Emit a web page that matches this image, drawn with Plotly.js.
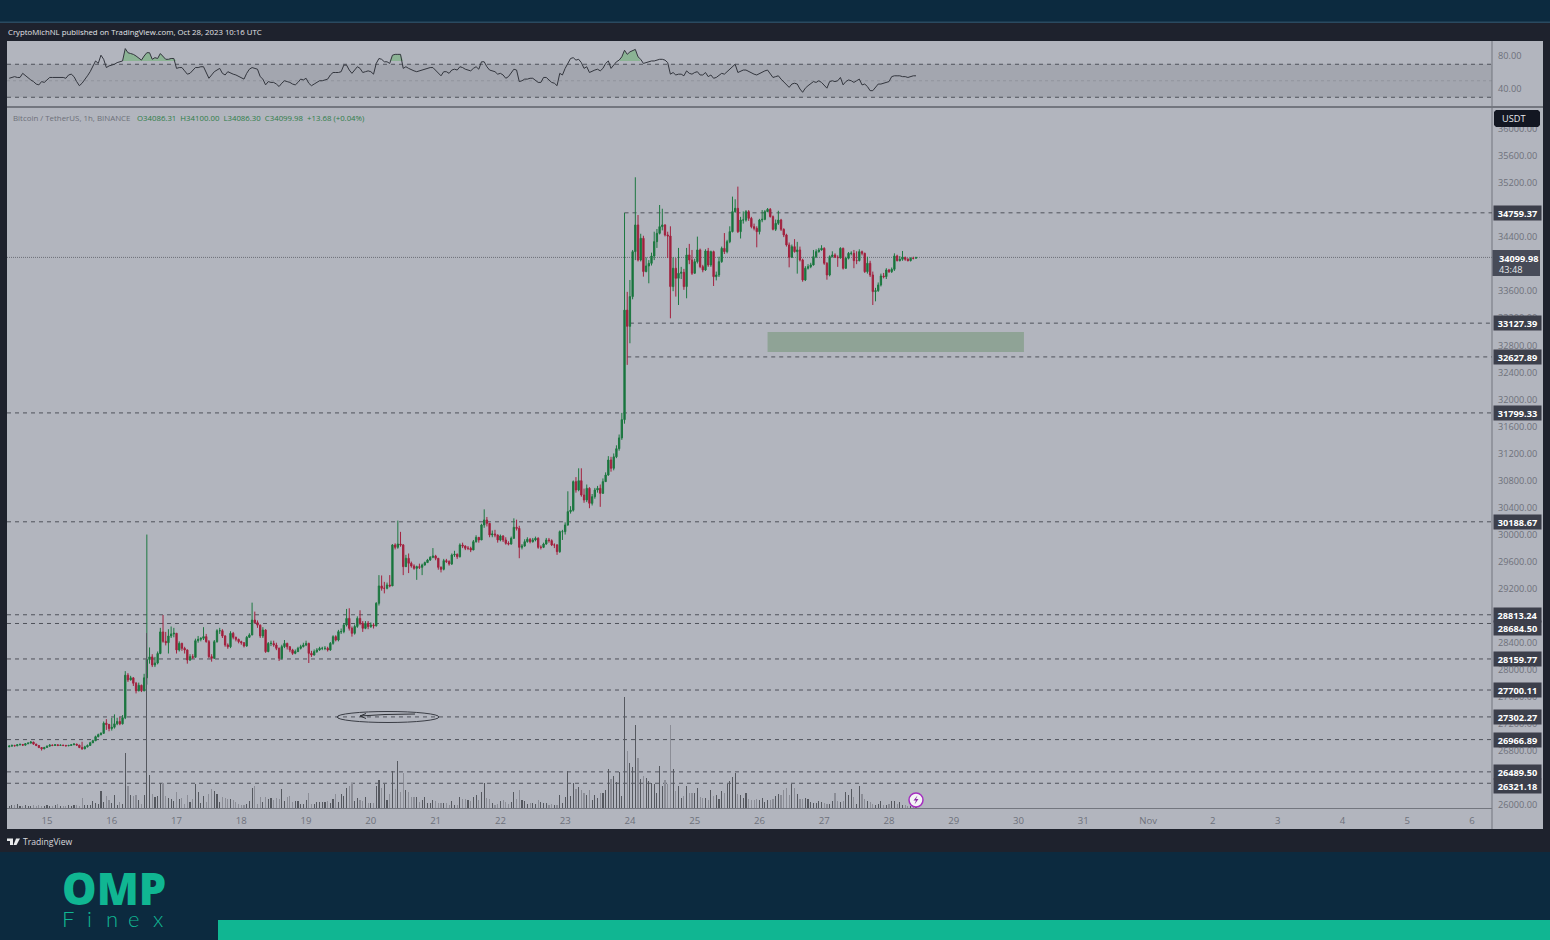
<!DOCTYPE html>
<html><head><meta charset="utf-8">
<script src="https://cdn.plot.ly/plotly-3.0.1.min.js"></script>
<style>html,body{margin:0;padding:0;background:#0c2a3f;overflow:hidden}#c{width:1550px;height:940px}</style>
</head><body><div id="c"></div>
<script>
const firstOpen = 26860;
const closes = [
26870,26880,26875,26890,26895,26885,26905,26915,26930,26900,26880,26850,26830,26850,
26870,26885,26880,26890,26880,26885,26880,26875,26880,26890,26900,26885,26850,26830,26860,26880,26920,26950,27010,27040,27060,27210,27190,27130,
27150,27200,27235,27200,27290,27920,27850,27880,27800,27690,27770,27690,27880,28150,28190,28070,28100,28240,28560,28420,28400,28500,28530,28540,
28293,28390,28317,28293,28145,28194,28185,28430,28450,28465,28490,28416,28194,28170,28416,28578,28578,28500,28366,28340,28539,28480,28450,28416,
28400,28352,28480,28515,28736,28697,28660,28500,28588,28268,28390,28390,28366,28317,28170,28342,28390,28340,28293,28243,28270,28317,28342,28366,
28390,28243,28218,28268,28293,28317,28317,28317,28293,28391,28490,28440,28564,28564,28662,28760,28613,28539,28640,28760,28687,28613,28687,28638,
28662,28650,28983,29240,29205,29205,29254,29240,29846,29811,29860,29846,29525,29649,29575,29535,29500,29525,29515,29550,29585,29624,29663,29683,
29649,29515,29486,29614,29600,29565,29698,29708,29673,29846,29830,29797,29797,29772,29895,29959,29920,30142,30216,30166,29994,30009,29994,29920,
29979,29920,29870,29860,29944,30107,30092,29811,29831,29895,29930,29895,29920,29944,29811,29811,29860,29920,29910,29846,29846,29747,30043,30043,
30142,30339,30360,30783,30660,30797,30585,30511,30684,30462,30560,30659,30684,30610,30783,30881,31103,30980,31150,31270,31430,31700,33320,33080,
33520,34185,34580,34062,34382,33890,33973,34012,34121,34333,34456,34555,34580,34432,34417,33668,33939,33791,33865,33880,33668,34136,34062,33865,
34037,34210,33963,33914,34195,33988,34185,33815,33840,34037,34234,34185,34333,34481,34777,34826,34481,34653,34653,34777,34678,34555,34530,34481,
34653,34663,34777,34811,34703,34515,34604,34653,34515,34432,34284,34101,34259,34185,34210,34062,33766,33939,33963,33988,34111,34185,34210,34234,
34013,33840,34111,34136,34101,34096,34234,33939,34087,34160,34160,34052,34052,34185,34160,33889,34013,33840,33594,33608,33692,33825,33815,33914,
33889,33924,34121,34052,34072,34101,34072,34052,34087,34086,34099.98];
const highs = [
26885,26895,26890,26900,26910,26900,26915,26925,26945,26935,26905,26885,26855,26860,
26880,26900,26895,26900,26895,26895,26890,26890,26890,26900,26915,26905,26890,26935,26875,26895,26935,26965,27025,27055,27075,27235,27270,27200,
27290,27340,27290,27300,27330,27980,27950,27910,27890,27820,27810,27780,27940,30000,28330,28230,28190,28270,28620,28810,28560,28600,28640,28620,
28540,28420,28400,28340,28300,28230,28230,28460,28500,28480,28630,28530,28440,28230,28440,28600,28620,28600,28510,28390,28570,28560,28490,28460,
28430,28410,28500,28540,28993,28860,28730,28670,28630,28600,28410,28430,28430,28400,28330,28370,28440,28400,28350,28310,28300,28340,28370,28400,
28430,28400,28280,28300,28320,28340,28340,28350,28340,28410,28510,28510,28590,28610,28690,28900,28910,28640,28670,28790,28880,28720,28720,28720,
28700,28690,29000,29400,29395,29300,29290,29400,29860,29870,30206,30040,29860,29700,29720,29600,29560,29540,29570,29570,29600,29640,29680,29800,
29700,29650,29530,29640,29640,29620,29720,29760,29720,29870,29880,29840,29830,29820,29920,29990,29960,30160,30373,30260,30170,30060,30070,30000,
30000,29990,29960,29900,29970,30240,30220,30130,29860,29930,29960,29950,29950,29970,29960,29840,29880,29950,29950,29930,29870,29860,30060,30070,
30180,30640,30420,30800,30850,30980,30980,30680,30740,30700,30600,30690,30720,30740,30830,30920,31160,31150,31200,31320,31480,31800,34760,33590,
33766,34210,35285,34727,34450,34420,34100,34060,34170,34480,34520,34875,34820,34590,34480,34560,34100,34090,34240,33960,33930,34240,34300,34210,
34080,34407,34230,33990,34220,34240,34200,34200,33890,34110,34260,34460,34360,34560,34999,34960,35147,34700,34780,34800,34800,34700,34600,34560,
34670,34800,34800,34830,34830,34720,34660,34790,34670,34530,34450,34320,34290,34370,34330,34260,34080,33970,34000,34020,34210,34220,34240,34280,
34250,34030,34130,34190,34160,34130,34250,34245,34110,34180,34190,34210,34190,34220,34200,34170,34110,34050,33890,33650,33730,33860,33870,33940,
33930,33950,34160,34140,34120,34195,34110,34090,34100,34110,34100];
const lows = [
26855,26865,26865,26870,26880,26875,26880,26900,26910,26890,26870,26840,26805,26825,
26850,26865,26870,26875,26870,26875,26870,26865,26870,26875,26885,26875,26840,26815,26825,26850,26875,26915,26945,27000,27030,27050,27110,27090,
27100,27130,27180,27180,27190,27270,27820,27840,27760,27650,27680,27670,27680,27780,28090,28040,28040,28080,28230,28400,28360,28240,28470,28480,
28240,28270,28280,28240,28090,28130,28160,28180,28400,28420,28440,28400,28170,28120,28160,28400,28530,28470,28340,28310,28320,28450,28420,28390,
28370,28330,28340,28470,28510,28680,28620,28470,28470,28250,28260,28350,28340,28290,28130,28150,28320,28300,28260,28220,28230,28260,28300,28330,
28350,28100,28190,28210,28250,28280,28290,28290,28270,28280,28370,28420,28420,28530,28540,28640,28580,28490,28520,28620,28660,28560,28600,28600,
28620,28610,28640,28950,29170,29130,29190,29220,29240,29780,29790,29820,29400,29520,29430,29510,29480,29330,29490,29400,29540,29580,29610,29650,
29620,29480,29440,29470,29580,29540,29550,29670,29640,29660,29800,29770,29770,29740,29770,29880,29880,29920,30100,30120,29960,29960,29960,29880,
29900,29890,29850,29840,29850,29940,30060,29650,29780,29820,29880,29870,29880,29900,29790,29780,29800,29850,29880,29830,29800,29700,29730,29920,
30000,30130,30310,30340,30620,30640,30560,30470,30480,30390,30430,30530,30620,30410,30600,30780,30870,30930,30950,31130,31240,31400,31640,32510,
32830,33480,34060,34040,34040,33815,33880,33717,33980,34060,34240,34440,34500,34410,34090,33199,33600,33520,33396,33780,33620,33495,34000,33840,
33960,34010,33940,33880,33900,33960,33960,33677,33760,33810,34020,34150,34160,34310,34470,34760,34460,34380,34600,34630,34640,34530,34500,34249,
34440,34620,34650,34770,34690,34500,34490,34580,34490,34400,34260,33953,34090,34170,33860,34040,33740,33750,33920,33940,33980,34090,34170,34200,
33990,33770,33820,34100,34090,33960,34080,33920,33930,34070,34130,33940,34000,34040,34130,33870,33860,33810,33396,33450,33590,33670,33790,33780,
33870,33870,33900,34040,34040,34050,34050,34040,34040,34070,34086.3];
const volumes = [
2,3,3,4,2,2,3,2,2,3,2,3,2,2,
3,2,2,3,4,2,2,2,3,2,3,3,2,10,3,3,3,7,5,4,17,6,12,8,
5,13,3,6,4,55,22,13,12,13,8,4,13,175,33,14,11,12,25,25,12,10,9,7,
16,9,10,4,13,6,9,24,16,5,12,6,14,19,17,14,6,11,10,9,9,8,6,4,
3,3,4,7,20,22,4,11,6,11,9,10,8,10,9,19,7,11,12,6,7,7,4,4,
8,15,4,4,6,6,6,6,7,5,9,14,6,14,12,20,22,25,7,10,8,7,11,5,
5,5,22,28,20,24,8,14,37,19,47,16,35,18,16,11,11,11,6,8,11,5,5,8,
7,5,5,5,5,3,7,3,3,11,9,9,8,7,11,13,8,16,25,10,9,5,3,4,
7,8,6,4,6,16,9,18,8,7,4,5,5,4,8,6,5,5,3,4,3,3,13,5,
11,37,12,25,19,21,18,15,13,18,8,13,10,15,15,18,39,29,32,26,36,12,111,57,
45,41,83,50,29,32,30,27,25,24,15,42,22,28,24,83,39,17,22,10,12,22,15,15,
15,20,11,10,10,8,18,12,13,9,17,15,24,27,31,35,14,13,10,15,9,8,8,9,
8,10,6,8,8,9,12,14,13,18,20,13,24,20,14,9,9,10,9,6,5,5,7,6,
5,4,4,7,15,7,6,7,16,13,19,11,4,22,14,9,7,6,4,3,4,7,3,3,
4,7,7,4,6,3,3,2,2,2,1];
const rsi = [
53,54,55,54,54,59,56,53,51,49,46,45,49,48,
51,54,54,54,54,54,54,53,57,58,55,49,44,47,51,56,61,68,74,71,81,76,66,68,
69,70,72,73,74,89,84,83,82,80,78,75,80,84,84,76,78,77,83,80,76,76,77,77,
65,66,66,62,58,59,63,66,66,67,67,59,53,57,61,63,65,59,57,61,59,58,57,55,
53,52,59,64,66,65,64,55,52,45,49,48,48,46,43,47,50,49,48,46,45,48,52,51,
53,47,44,46,48,50,50,51,52,57,60,60,60,61,69,69,63,59,63,67,65,60,61,62,
61,58,71,77,76,73,73,71,81,82,82,82,65,67,65,63,62,61,62,63,64,65,66,66,
63,59,56,61,61,59,63,64,63,67,66,64,63,62,65,67,64,73,73,67,63,62,61,58,
59,57,53,55,59,64,63,49,50,52,52,53,53,51,48,48,54,54,51,48,47,44,59,57,
65,71,77,78,75,76,72,65,67,60,62,63,64,62,65,71,74,65,69,73,75,79,87,82,
85,87,88,79,76,71,72,73,74,74,75,76,76,75,72,58,60,57,58,58,56,62,59,58,
60,61,57,57,60,55,57,53,54,56,59,58,61,63,67,70,60,62,63,63,61,60,58,57,
59,60,62,63,59,54,55,56,52,49,45,42,46,47,46,40,36,41,44,47,49,48,50,48,
44,41,49,50,49,50,54,45,49,51,50,48,50,52,45,46,43,38,38,42,46,46,47,48,
49,55,56,56,56,55,55,54,55,56,56];
const overboughtSpans = [[43,61],[142,145],[227,233]];
const overboughtBase = 74;

const levels = [34759.37,33127.39,32627.89,31799.33,30188.67,28813.24,28684.50,28159.77,27700.11,27302.27,26966.89,26489.50,26321.18];
const levelStartHours = ['2023-10-23 22:00','2023-10-24 00:00','2023-10-23 23:00',null,null,null,null,null,null,null,null,null,null];
const labelShifts = [0,0,0,0,0,0,-5,0,0,0,0,0,-3];
const lastPrice = 34099.98;
const countdown = '43:48';
const priceTicks = [26000,26400,26800,27200,27600,28000,28400,28800,29200,29600,30000,30400,30800,31200,31600,32000,32400,32800,33200,33600,34000,34400,34800,35200,35600,36000];
const rsiTicks = [40,80];
const dayTicks = ['2023-10-15','2023-10-16','2023-10-17','2023-10-18','2023-10-19','2023-10-20','2023-10-21','2023-10-22','2023-10-23','2023-10-24','2023-10-25','2023-10-26','2023-10-27','2023-10-28','2023-10-29','2023-10-30','2023-10-31','2023-11-01','2023-11-02','2023-11-03','2023-11-04','2023-11-05','2023-11-06'];
const dayLabels = ['15','16','17','18','19','20','21','22','23','24','25','26','27','28','29','30','31','Nov','2','3','4','5','6'];

const W=1550,H=940;
const px=x=>x/W, py=y=>1-y/H;
const pad=n=>String(n).padStart(2,'0');
const times = closes.map((_,i)=>{const d=new Date(Date.UTC(2023,9,14,10+i));
  return `${d.getUTCFullYear()}-${pad(d.getUTCMonth()+1)}-${pad(d.getUTCDate())} ${pad(d.getUTCHours())}:00`;});
const opens = closes.map((c,i)=>i?closes[i-1]:firstOpen);
opens[opens.length-1]=34086.31;
const GREY='#6e717b';
const FONT='"Open Sans",sans-serif';
const inSpan=i=>overboughtSpans.some(s=>i>=s[0]&&i<=s[1]);

const traces=[
 {type:'bar',x:times,y:volumes,yaxis:'y2',xaxis:'x',width:3600000*0.42,
  marker:{color:closes.map((c,i)=>c>=opens[i]?'#55585f':'#8b8d96'),line:{width:0}},hoverinfo:'skip',showlegend:false},
 {type:'candlestick',x:times,open:opens,high:highs,low:lows,close:closes,xaxis:'x',yaxis:'y',
  increasing:{line:{color:'#1d7840',width:1},fillcolor:'#12703a'},
  decreasing:{line:{color:'#a3223f',width:1},fillcolor:'#9c1c38'},
  whiskerwidth:0,showlegend:false,hoverinfo:'skip'},
 {type:'scatter',mode:'lines',x:times,y:rsi.map(()=>overboughtBase),yaxis:'y3',line:{width:0},hoverinfo:'skip',showlegend:false},
 {type:'scatter',mode:'lines',x:times,y:rsi.map((v,i)=>inSpan(i)?Math.max(v,overboughtBase):overboughtBase),yaxis:'y3',line:{width:0},fill:'tonexty',fillcolor:'rgba(76,175,80,0.38)',hoverinfo:'skip',showlegend:false},
 {type:'scatter',mode:'lines',x:times,y:rsi,yaxis:'y3',line:{color:'#33363e',width:1},hoverinfo:'skip',showlegend:false}
];

const rect=(x0,y0,x1,y1,c,layer)=>({type:'rect',xref:'paper',yref:'paper',x0:px(x0),x1:px(x1),y0:py(y0),y1:py(y1),fillcolor:c,line:{width:0},layer:layer||'below'});
const pth=(pts,fill,line)=>({type:'path',xref:'paper',yref:'paper',
  path:pts.map((p,i)=>(i?'L':'M')+px(p[0])+','+py(p[1])).join(' ')+(fill?' Z':''),
  fillcolor:fill||'rgba(0,0,0,0)',line:line||{width:0},layer:'above'});
const dashLine={color:'#4f525b',width:1,dash:'4px,4px'};
const shapes=[
 rect(0,22,1550,852,'#1e222d'),
 rect(0,21.5,1550,23,'#2a4a60'),
 rect(7,41,1543,829,'#b2b5be'),
 {type:'rect',xref:'paper',yref:'y3',x0:px(7),x1:px(1492),y0:30,y1:70,fillcolor:'rgba(110,113,123,0.22)',line:{width:0},layer:'below'},
 {type:'line',xref:'paper',yref:'y3',x0:px(7),x1:px(1492),y0:70,y1:70,line:dashLine,layer:'below'},
 {type:'line',xref:'paper',yref:'y3',x0:px(7),x1:px(1492),y0:30,y1:30,line:dashLine,layer:'below'},
 {type:'line',xref:'paper',yref:'y3',x0:px(7),x1:px(1492),y0:50,y1:50,line:{color:'#90939c',width:1,dash:'3px,3px'},layer:'below'},
 rect(7,106,1543,108,'#73767f'),
 rect(1491.5,41,1492.5,829,'#73767f'),
 rect(218,920,1550,940,'#10b692'),
 {type:'line',xref:'paper',yref:'y',x0:px(7),x1:px(1492),y0:lastPrice,y1:lastPrice,line:{color:'#6c6f78',width:1,dash:'1px,1px'},layer:'below'},
 {type:'rect',xref:'x',yref:'y',x0:'2023-10-26 03:00',x1:'2023-10-30 02:00',y0:32700,y1:32996,fillcolor:'#8fa396',line:{width:0},layer:'below'},
 {type:'circle',xref:'paper',yref:'paper',x0:px(337),x1:px(439),y0:py(711.5),y1:py(722.5),line:{color:'#3a3d45',width:1},fillcolor:'rgba(0,0,0,0)',layer:'above'},
 pth([[415,714],[385,714.5],[360,716]],null,{color:'#2f3238',width:1}),
 pth([[366,713.5],[360,716],[366,718.5]],null,{color:'#2f3238',width:1}),
 pth([[7,838.5],[13,838.5],[13,845],[10,845],[10,841],[7,841]],'#e8e9ec'),
 pth([[16,838.5],[20,838.5],[16.5,845],[13.5,845]],'#e8e9ec'),
 {type:'circle',xref:'paper',yref:'paper',x0:px(909),x1:px(923),y0:py(793),y1:py(807),line:{color:'#a52fc0',width:1.5},fillcolor:'#f4f4f6',layer:'above'},
 pth([[917.5,795.5],[913.5,800.5],[916,800.5],[914.5,804.5],[918.5,799],[916,799]],'#8e2aa6'),
 pth([[1496,110],[1538,110],[1540,112],[1540,125],[1538,127],[1496,127],[1494,125],[1494,112]],'#131722'),
 rect(1492.5,250,1540,276,'#474b58','above')
];
levels.forEach((v,i)=>{
  const s=levelStartHours[i];
  shapes.push(s?{type:'line',xref:'x',yref:'y',x0:s,x1:'2023-11-06 07:26',y0:v,y1:v,line:dashLine,layer:'below'}
              :{type:'line',xref:'paper',yref:'y',x0:px(7),x1:px(1492),y0:v,y1:v,line:dashLine,layer:'below'});
});

const txt=(x,y,t,o)=>Object.assign({xref:'paper',yref:'paper',x:px(x),y:py(y),text:t,showarrow:false,xanchor:'left',yanchor:'middle',borderpad:0,font:{family:FONT,size:9,color:'#e8e9ec'}},o||{});
const annotations=[
 txt(7,32,'CryptoMichNL published on TradingView.com, Oct 28, 2023 10:16 UTC',{font:{family:FONT,size:7.8,color:'#e3e4e8'}}),
 txt(12,117.5,'<span style="color:#6d7079">Bitcoin / TetherUS, 1h, BINANCE</span>',{font:{family:FONT,size:7.9,color:'#6d7079'}}),
 txt(136,117.5,'<span style="color:#2f7d48">O34086.31  H34100.00  L34086.30  C34099.98  +13.68 (+0.04%)</span>',{font:{family:FONT,size:7.8,color:'#2f7d48'}}),
 txt(22,841.5,'TradingView',{font:{family:FONT,size:8.6,color:'#d8d9dd'}}),
 txt(1501,119,'USDT',{font:{family:FONT,size:9.2,color:'#e8e9ec'}}),
 txt(1498,258,'<b>'+lastPrice.toFixed(2)+'</b>',{font:{family:FONT,size:9.2,color:'#fff'}}),
 txt(1498,269,countdown,{font:{family:FONT,size:9.2,color:'#e8e9ec'}}),
 txt(60.5,888,'OMP',{font:{family:FONT,size:43.5,weight:800,color:'#10b692'}}),
];
[['F',61],['i',86],['n',105],['e',127],['x',152]].forEach(a=>annotations.push(txt(a[1],918.5,a[0],{font:{family:'Lato,sans-serif',size:22,weight:300,color:'#10b692'}})));
levels.forEach((v,i)=>annotations.push({xref:'paper',yref:'y',x:px(1493),y:v,yshift:labelShifts[i],text:'<b>'+v.toFixed(2)+'</b>',showarrow:false,xanchor:'left',yanchor:'middle',width:47,height:14,align:'center',bgcolor:'#3c3f4b',borderpad:0,font:{family:FONT,size:9.2,color:'#fff'}}));

const layout={
 width:W,height:H,margin:{l:0,r:0,t:0,b:0},paper_bgcolor:'#0c2a3f',plot_bgcolor:'rgba(0,0,0,0)',showlegend:false,dragmode:false,bargap:0,
 xaxis:{type:'date',domain:[px(7),px(1492)],range:['2023-10-14 09:11','2023-11-06 07:26'],rangeslider:{visible:false},anchor:'y',
   tickmode:'array',tickvals:dayTicks,ticktext:dayLabels,tickfont:{family:FONT,size:9.6,color:GREY},ticks:'',ticklen:0,showgrid:false,zeroline:false,
   showline:true,linecolor:'#73767f',linewidth:1,ticklabelstandoff:3},
 yaxis:{domain:[py(808),py(108)],range:[25955,36310],side:'right',anchor:'x',tickmode:'array',tickvals:priceTicks,ticktext:priceTicks.map(v=>v.toFixed(2)),
   tickfont:{family:FONT,size:9.2,color:GREY},ticks:'',showgrid:false,zeroline:false,showline:false,ticklabelstandoff:5},
 yaxis2:{domain:[py(808),py(108)],range:[0,700],overlaying:'y',side:'left',anchor:'x',visible:false,fixedrange:true},
 yaxis3:{domain:[py(106),py(41)],range:[19.4,98.2],side:'right',anchor:'x',tickmode:'array',tickvals:rsiTicks,ticktext:rsiTicks.map(v=>v.toFixed(2)),
   tickfont:{family:FONT,size:9.2,color:GREY},ticks:'',showgrid:false,zeroline:false,showline:false,ticklabelstandoff:5},
 shapes,annotations
};
Plotly.newPlot('c',traces,layout,{staticPlot:true,displayModeBar:false});
</script></body></html>
